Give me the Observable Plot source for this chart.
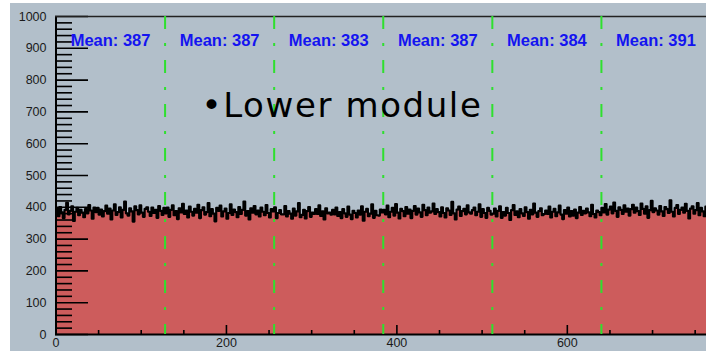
<!DOCTYPE html>
<html>
<head>
<meta charset="utf-8">
<script src="https://cdn.jsdelivr.net/npm/d3@7"></script>
<script src="https://cdn.jsdelivr.net/npm/@observablehq/plot@0.6"></script>
<style>
  html, body { margin: 0; padding: 0; background: #fff; }
  #pad { position: relative; width: 706px; height: 351px; overflow: hidden; }
  #pad::before { content: ""; position: absolute; left: 10px; top: 3px; right: 0; bottom: 0; background: #b2bfca; }
  #chart { position: absolute; left: 0; top: 0; }
</style>
</head>
<body>
<div id="pad"><div id="chart"></div></div>
<script>
// Counts per 2-channel bin, one array per 128-channel section of the lower module
const section1 = [
  395, 372, 401, 384, 366, 392, 414, 378, 389, 403, 357, 386, 398, 375, 392, 383,
  369, 394, 381, 407, 390, 364, 399, 385, 398, 377, 393, 371, 388, 405, 380, 396,
  362, 390, 409, 376, 385, 400, 368, 392, 418, 381, 374, 397, 387, 355, 403, 391,
  378, 406, 383, 370, 395, 400, 386, 373, 399, 382, 392, 367, 404, 389, 376, 398
];
const section2 = [
  381, 399, 370, 392, 406, 375, 388, 363, 397, 384, 411, 379, 390, 368, 402, 386,
  374, 395, 383, 408, 366, 391, 400, 377, 385, 413, 372, 394, 380, 356, 398, 389,
  405, 371, 387, 396, 364, 382, 409, 376, 393, 385, 369, 401, 379, 392, 418, 374,
  388, 362, 397, 383, 404, 378, 390, 371, 399, 386, 375, 407, 382, 368, 394, 387
];
const section3 = [
  400, 366, 382, 391, 378, 378, 404, 371, 388, 380, 364, 396, 374, 387, 413, 369,
  376, 392, 365, 388, 401, 370, 383, 379, 394, 379, 406, 373, 387, 362, 397, 381,
  383, 377, 392, 378, 399, 373, 385, 366, 394, 381, 370, 402, 377, 363, 389, 382,
  368, 390, 377, 403, 358, 386, 395, 372, 380, 409, 367, 389, 375, 374, 393, 384
];
const section4 = [
  392, 378, 405, 369, 386, 398, 374, 410, 383, 365, 395, 388, 372, 401, 380, 393,
  366, 389, 404, 377, 396, 384, 370, 408, 391, 375, 399, 383, 387, 412, 379, 394,
  385, 371, 400, 382, 368, 397, 390, 376, 417, 381, 362, 393, 402, 373, 388, 395,
  378, 406, 384, 380, 391, 399, 375, 386, 409, 370, 394, 382, 367, 398, 389, 377
];
const section5 = [
  380, 396, 371, 389, 403, 367, 385, 374, 398, 382, 360, 391, 407, 376, 387, 369,
  394, 381, 373, 400, 385, 364, 392, 378, 412, 383, 370, 388, 397, 375, 379, 390,
  379, 402, 368, 386, 395, 372, 384, 405, 377, 363, 391, 380, 399, 371, 388, 374,
  393, 366, 383, 401, 376, 389, 381, 396, 384, 372, 408, 379, 368, 390, 385, 375
];
const section6 = [
  398, 384, 410, 377, 393, 402, 381, 415, 389, 370, 400, 392, 379, 406, 386, 396,
  374, 394, 408, 383, 399, 388, 376, 412, 395, 380, 403, 367, 391, 420, 385, 397,
  390, 377, 404, 387, 373, 401, 394, 382, 422, 386, 371, 398, 407, 379, 392, 399,
  383, 411, 389, 365, 396, 403, 380, 391, 413, 375, 398, 387, 372, 402, 393, 381
];

const channelsPerBin = 2;
const sectionEdges = [0, 128, 256, 384, 512, 640, 768];
const sectionMeans = [387, 387, 383, 387, 384, 391];
const moduleLabel = "•Lower module";

const xMajorTicks = [0, 200, 400, 600];
const xMinorTicks = [50, 100, 150, 250, 300, 350, 450, 500, 550, 650, 700, 750];
const yMajorTicks = [0, 100, 200, 300, 400, 500, 600, 700, 800, 900, 1000];
const yMinorTicks = d3.range(0, 1001, 20).filter(v => v % 100 !== 0);

// Histogram outline points: each bin starts at its lower channel, the last one closes at the end
const counts = [section1, section2, section3, section4, section5, section6].flat();
const outline = counts.map((v, i) => ({ x: i * channelsPerBin, v }))
  .concat([{ x: counts.length * channelsPerBin, v: counts[counts.length - 1] }]);
const sections = sectionMeans.map((m, i) => ({
  mid: (sectionEdges[i] + sectionEdges[i + 1]) / 2,
  label: `Mean: ${m}`
}));

const W = 706, H = 351, mL = 55, mT = 16, mB = 17, mR = 0;
const frameW = W - mL - mR, frameH = H - mT - mB;

const chart = Plot.plot({
  width: W, height: H,
  marginLeft: mL, marginRight: mR, marginTop: mT, marginBottom: mB,
  style: { background: "transparent", fontFamily: "'Liberation Sans', Arial, sans-serif", fontSize: "12.5px", color: "#1a1a1a", overflow: "hidden" },
  x: { domain: [0, 768], range: [55.5, 710], ticks: xMajorTicks, tickSize: 0, tickPadding: 4, tickFormat: d => String(d), label: null },
  y: { domain: [0, 1000], ticks: yMajorTicks, tickSize: 0, tickPadding: 9, tickFormat: d => String(d), label: null },
  marks: [
    Plot.areaY(outline, { x: "x", y: "v", curve: "step-after", fill: "#cd5c5c" }),
    Plot.lineY(outline, { x: "x", y: "v", curve: "step-after", stroke: "#000", strokeWidth: 2.2 }),
    // inward ticks, ROOT style
    Plot.tickY(yMinorTicks, { y: d => d, stroke: "#000", strokeWidth: 1.6, insetRight: frameW - 17 }),
    Plot.tickY(yMajorTicks, { y: d => d, stroke: "#000", strokeWidth: 1.6, insetRight: frameW - 33 }),
    Plot.tickX(xMinorTicks, { x: d => d, stroke: "#000", strokeWidth: 1.6, insetTop: frameH - 4 }),
    Plot.tickX(xMajorTicks, { x: d => d, stroke: "#000", strokeWidth: 1.6, insetTop: frameH - 9 }),
    Plot.ruleX([0], { stroke: "#000", strokeWidth: 2 }),
    Plot.ruleY([0], { stroke: "#000", strokeWidth: 2 }),
    Plot.ruleY([1000], { stroke: "#222", strokeWidth: 1.5 }),
    // section boundaries
    Plot.ruleX(sectionEdges.slice(1, -1), { stroke: "#2ee02e", strokeWidth: 2, strokeDasharray: "13,14,3,14" }),
    Plot.text(sections, { x: "mid", text: "label", frameAnchor: "top", dy: 18, fill: "#1414f0", fontWeight: "bold", fontSize: 16.5 }),
    Plot.text([moduleLabel], { text: d => d, frameAnchor: "top-left", dx: 146, dy: 76, textAnchor: "start", fontFamily: "'DejaVu Sans', sans-serif", fontSize: 34, fill: "#000" })
  ]
});

d3.select(chart).selectAll("text").filter(function () { return this.textContent === moduleLabel; })
  .attr("letter-spacing", "1.6px");

document.getElementById("chart").appendChild(chart);
</script>
</body>
</html>
